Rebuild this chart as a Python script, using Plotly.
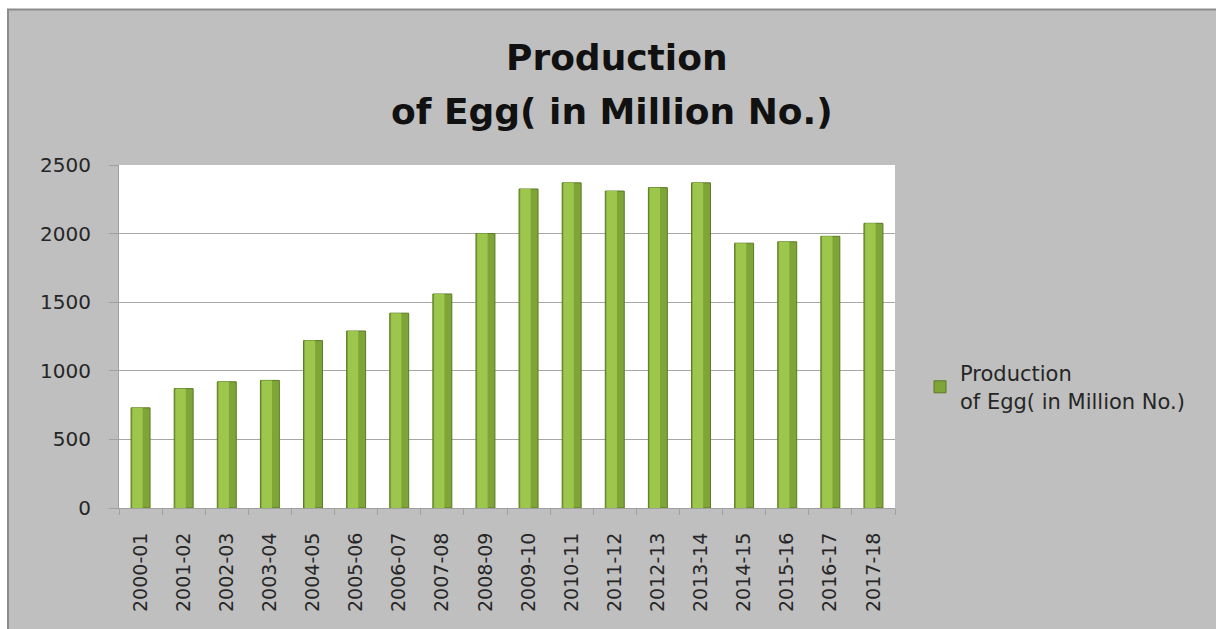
import plotly.graph_objects as go

# ---- data ----
years = ["2000-01", "2001-02", "2002-03", "2003-04", "2004-05", "2005-06",
         "2006-07", "2007-08", "2008-09", "2009-10", "2010-11", "2011-12",
         "2012-13", "2013-14", "2014-15", "2015-16", "2016-17", "2017-18"]
egg_production = [730, 870, 920, 930, 1220, 1290, 1420, 1560, 2000, 2325,
                  2370, 2310, 2335, 2370, 1930, 1940, 1980, 2075]
series_name = "Production<br>of Egg( in Million No.)"
title_line1 = "Production"
title_line2 = "of Egg( in Million No.)"
y_ticks = [0, 500, 1000, 1500, 2000, 2500]

# ---- layout geometry ----
PAGE_W, PAGE_H = 1216, 629
FW, FH = PAGE_W, PAGE_H
# plot area in page pixels
PX0, PX1, PY0, PY1 = 119, 895, 165, 508
L, T = PX0, PY0
R, B = FW - PX1, FH - PY1
W, H = PX1 - PX0, PY1 - PY0


def px_x(p):
    return (p - PX0) / W


def px_y(p):
    return (PY1 - p) / H


fig = go.Figure()

fig.add_trace(go.Bar(
    x=years, y=egg_production, name=series_name,
    width=0.44,
    marker=dict(color="#7FA437", line=dict(color="#5A7A22", width=1)),
    showlegend=True,
))
fig.add_trace(go.Bar(
    x=years, y=egg_production, name="hl",
    width=0.24, offset=-0.19,
    marker=dict(color="#9DC64C", line=dict(width=0)),
    showlegend=False, hoverinfo="skip",
))

fig.update_layout(
    width=FW, height=FH,
    margin=dict(l=L, r=R, t=T, b=B, pad=0),
    paper_bgcolor="white",
    plot_bgcolor="white",
    barmode="overlay",
    showlegend=True,
    legend=dict(
        x=px_x(920), y=px_y(387), xanchor="left", yanchor="middle",
        bgcolor="rgba(0,0,0,0)",
        font=dict(family="DejaVu Sans", size=21, color="#262626"),
    ),
    shapes=[
        dict(type="rect", xref="paper", yref="paper", layer="below",
             x0=px_x(8), x1=px_x(PAGE_W + 20), y0=px_y(PAGE_H + 20), y1=px_y(9.5),
             fillcolor="#BFBFBF", line=dict(color="#8C8C8C", width=2)),
        dict(type="rect", xref="paper", yref="paper", layer="below",
             x0=0, x1=1, y0=0, y1=1,
             fillcolor="white", line=dict(width=0)),
    ],
    annotations=[
        dict(text="<b>" + title_line1 + "</b>", xref="paper", yref="paper",
             x=px_x(617), y=px_y(58), xanchor="center", yanchor="middle",
             showarrow=False,
             font=dict(family="DejaVu Sans", size=36, color="#111111")),
        dict(text="<b>" + title_line2 + "</b>", xref="paper", yref="paper",
             x=px_x(612), y=px_y(111), xanchor="center", yanchor="middle",
             showarrow=False,
             font=dict(family="DejaVu Sans", size=36, color="#111111")),
    ],
)

fig.update_yaxes(
    range=[0, 2500], tickvals=y_ticks,
    showgrid=True, gridcolor="#A6A6A6", gridwidth=1,
    showline=True, linecolor="#A0A0A0", linewidth=1,
    ticks="outside", ticklen=9, tickcolor="#A0A0A0",
    ticklabelstandoff=14,
    tickfont=dict(family="DejaVu Sans", size=20, color="#262626"),
    zeroline=False,
)
fig.update_xaxes(
    type="category", range=[-0.5, len(years) - 0.5],
    tickangle=-90, tickson="boundaries",
    showline=True, linecolor="#A0A0A0", linewidth=1,
    ticks="outside", ticklen=6, tickcolor="#A0A0A0",
    ticklabelstandoff=16,
    tickfont=dict(family="DejaVu Sans", size=19, color="#262626"),
    showgrid=False,
)

fig.write_html(
    "out.html",
    config={"displayModeBar": False},
    post_script="document.body.style.margin='0px';document.body.style.overflow='hidden';",
)
